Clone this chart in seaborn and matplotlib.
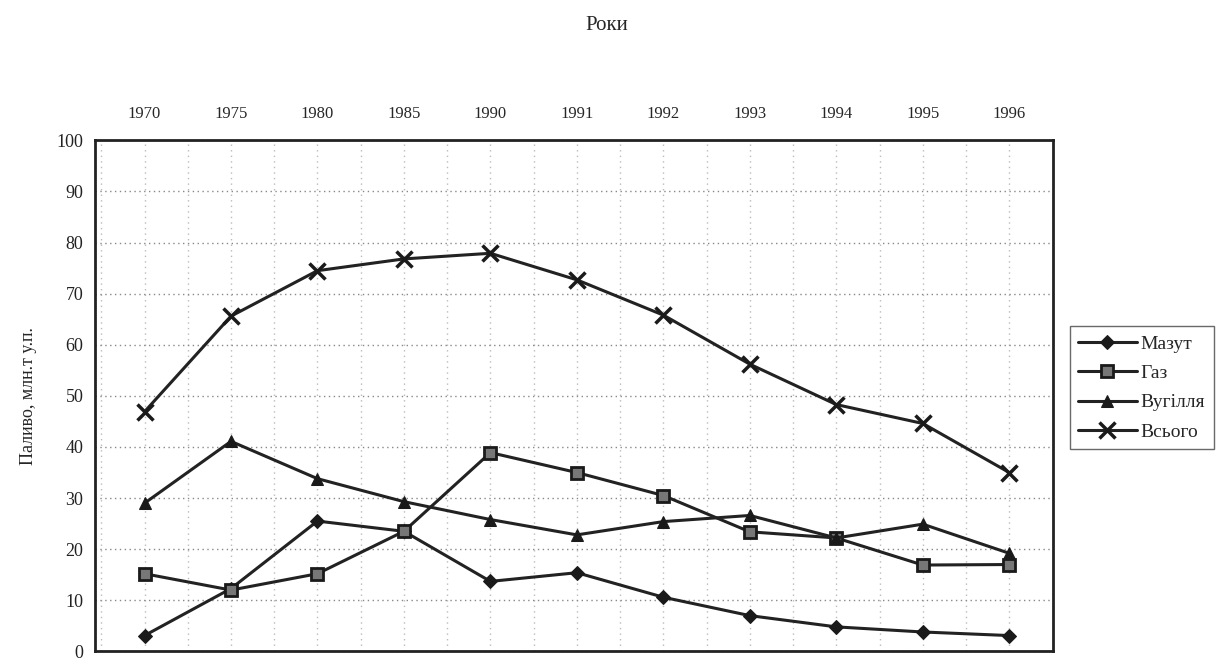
import numpy as np
import pandas as pd
import seaborn as sns
import matplotlib.pyplot as plt
from matplotlib.ticker import MultipleLocator

years = ["1970", "1975", "1980", "1985", "1990", "1991", "1992", "1993", "1994", "1995", "1996"]
mazut = [3.1, 12.3, 25.5, 23.5, 13.7, 15.4, 10.6, 7.0, 4.8, 3.8, 3.1]
gaz = [15.2, 12.0, 15.2, 23.5, 38.9, 35.0, 30.5, 23.4, 22.2, 16.9, 17.0]
vuhillia = [29.0, 41.1, 33.8, 29.3, 25.8, 22.8, 25.4, 26.6, 22.2, 24.9, 19.2]
vsoho = [46.9, 65.6, 74.5, 76.8, 77.9, 72.7, 65.8, 56.2, 48.3, 44.6, 35.0]

series_names = ["Мазут", "Газ", "Вугілля", "Всього"]
series_vals = [mazut, gaz, vuhillia, vsoho]
marker_styles = {
    "Мазут": dict(marker="D", markersize=7, markerfacecolor="#1a1a1a", markeredgecolor="#1a1a1a"),
    "Газ": dict(marker="s", markersize=8, markerfacecolor="#777777", markeredgecolor="#1a1a1a", markeredgewidth=2),
    "Вугілля": dict(marker="^", markersize=9, markerfacecolor="#1a1a1a", markeredgecolor="#1a1a1a"),
    "Всього": dict(marker="x", markersize=11, markeredgewidth=2.5, markeredgecolor="#1a1a1a"),
}

sns.set_style("white")
plt.rcParams["font.family"] = ["Liberation Serif", "DejaVu Serif"]

fig = plt.figure(figsize=(12.21, 6.62), dpi=100)
ax = fig.add_axes([0.078, 0.016, 0.784, 0.772])

x = np.arange(len(years))
for name, vals in zip(series_names, series_vals):
    sns.lineplot(x=x, y=vals, ax=ax, color="#222222", linewidth=2.2, label=name,
                 **marker_styles[name])

ax.set_xlim(-0.57, len(years) - 0.5)
ax.set_ylim(0, 100)
ax.xaxis.tick_top()
ax.set_xticks(x)
ax.set_xticklabels(years, fontsize=12)
ax.xaxis.set_minor_locator(MultipleLocator(0.5))
ax.tick_params(axis="x", which="both", length=0, pad=13)
ax.set_yticks(range(0, 101, 10))
ax.tick_params(axis="y", labelsize=13, length=5, width=1.5, direction="out", colors="#222222")

ax.grid(True, axis="y", which="major", linestyle=(0, (1, 2.5)), color="#888888", linewidth=1)
ax.grid(True, axis="x", which="both", linestyle=(0, (1, 3)), color="#bbbbbb", linewidth=1)

for s in ax.spines.values():
    s.set_visible(True)
    s.set_color("#222222")
    s.set_linewidth(2)

ax.set_ylabel("Паливо, млн.т у.п.", fontsize=13, labelpad=14)
fig.text(0.497, 0.962, "Роки", ha="center", va="center", fontsize=15)

leg = ax.legend(loc="center left", bbox_to_anchor=(0.868, 0.414), bbox_transform=fig.transFigure,
                fontsize=14, frameon=True, fancybox=False, edgecolor="#444444",
                handlelength=3.0, borderpad=0.45, labelspacing=0.6, handletextpad=0.2)
leg.get_frame().set_linewidth(1)

fig.savefig("out.png", dpi=100)
